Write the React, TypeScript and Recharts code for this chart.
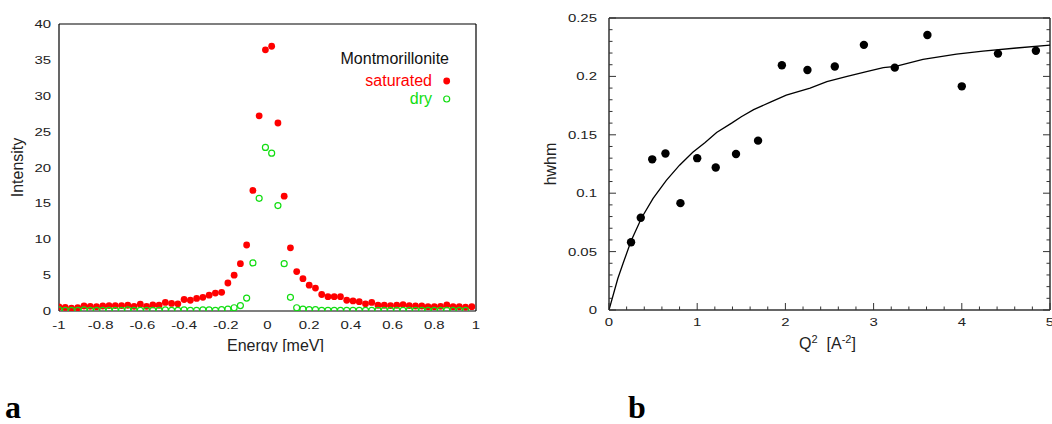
import React from 'react'
import { ScatterChart, Scatter, XAxis, YAxis, Legend, Label } from 'recharts'

// panel a: quasi-elastic spectra
const energy = [
  -1, -0.97, -0.94, -0.91, -0.88, -0.85, -0.82, -0.79, -0.76, -0.73, -0.7, -0.67, -0.64, -0.61,
  -0.58, -0.55, -0.52, -0.49, -0.46, -0.43, -0.4, -0.37, -0.34, -0.31, -0.28, -0.25, -0.22, -0.19,
  -0.16, -0.13, -0.1, -0.07, -0.04, -0.01, 0.02, 0.05, 0.08, 0.11, 0.14, 0.17, 0.2, 0.23, 0.26,
  0.29, 0.32, 0.35, 0.38, 0.41, 0.44, 0.47, 0.5, 0.53, 0.56, 0.59, 0.62, 0.65, 0.68, 0.71, 0.74,
  0.77, 0.8, 0.83, 0.86, 0.89, 0.92, 0.95, 0.98,
]
const saturated = [
  0.56, 0.5, 0.4, 0.45, 0.7, 0.65, 0.6, 0.7, 0.75, 0.75, 0.75, 0.8, 0.65, 0.95,
  0.65, 0.85, 0.8, 1.2, 1.05, 1.0, 1.6, 1.5, 1.75, 1.9, 2.2, 2.5, 2.6, 3.9,
  5.0, 6.6, 9.2, 16.8, 27.2, 36.4, 36.9, 26.2, 16.0, 8.8, 5.5, 4.5, 3.6, 3.2, 2.3,
  2.0, 2.0, 2.0, 1.5, 1.4, 1.3, 1.0, 1.2, 0.8, 0.8, 0.75, 0.8, 0.9, 0.75, 0.7, 0.7,
  0.6, 0.6, 0.65, 0.85, 0.6, 0.6, 0.55, 0.6,
]
const dry: (number | null)[] = [
  0.15, 0.1, 0.1, 0.1, 0.15, 0.1, 0.1, 0.1, 0.1, 0.1, 0.1, 0.15, 0.1, 0.1,
  0.1, 0.1, 0.1, 0.15, 0.1, 0.1, 0.15, 0.1, 0.1, 0.15, 0.15, 0.1, 0.2, 0.25,
  0.45, 0.75, 1.8, 6.7, 15.7, 22.8, 22.0, 14.7, 6.6, 1.9, 0.45, 0.25, 0.2, 0.2, 0.1,
  0.1, 0.1, 0.1, 0.1, 0.1, 0.1, 0.1, 0.1, 0.1, 0.1, 0.1, 0.1, 0.1, 0.1, 0.1, 0.1,
  0.1, 0.1, 0.1, 0.1, 0.1, 0.1, 0.1, null,
]
const energyTicks = [-1, -0.8, -0.6, -0.4, -0.2, 0, 0.2, 0.4, 0.6, 0.8, 1]
const intensityTicks = [0, 5, 10, 15, 20, 25, 30, 35, 40]
const legendTitle = 'Montmorillonite'
const seriesOrder = ['saturated', 'dry']

// panel b: linewidth vs Q^2
const q2 = [0.25, 0.36, 0.49, 0.64, 0.81, 1, 1.21, 1.44, 1.69, 1.96, 2.25, 2.56, 2.89, 3.24, 3.61, 4, 4.41, 4.84]
const hwhm = [0.058, 0.079, 0.129, 0.134, 0.0915, 0.13, 0.122, 0.1335, 0.145, 0.2095, 0.2055, 0.2085, 0.227, 0.2075, 0.2355, 0.1915, 0.2195, 0.222]
const fitQ2 = [0, 0.1, 0.16, 0.25, 0.37, 0.5, 0.65, 0.8, 0.95, 1.09, 1.22, 1.39, 1.5, 1.64, 1.83, 2.01, 2.28, 2.47, 2.7, 2.92, 3.11, 3.25, 3.56, 3.94, 4.24, 4.62, 5]
const fitHwhm = [0, 0.027, 0.04, 0.059, 0.079, 0.0955, 0.111, 0.124, 0.135, 0.1435, 0.152, 0.16, 0.1655, 0.1715, 0.178, 0.184, 0.19, 0.1955, 0.2, 0.204, 0.2075, 0.2085, 0.2145, 0.219, 0.2217, 0.2243, 0.2268]
const q2Ticks = [0, 0.2, 0.4, 0.6, 0.8, 1, 1.2, 1.4, 1.6, 1.8, 2, 2.2, 2.4, 2.6, 2.8, 3, 3.2, 3.4, 3.6, 3.8, 4, 4.2, 4.4, 4.6, 4.8, 5]
const q2Major = [0, 1, 2, 3, 4, 5]
const hwhmTicks = [0, 0.01, 0.02, 0.03, 0.04, 0.05, 0.06, 0.07, 0.08, 0.09, 0.1, 0.11, 0.12, 0.13, 0.14, 0.15, 0.16, 0.17, 0.18, 0.19, 0.2, 0.21, 0.22, 0.23, 0.24, 0.25]
const hwhmMajor = [0, 0.05, 0.1, 0.15, 0.2, 0.25]

const FONT = '"Liberation Sans", Arial, Helvetica, sans-serif'
const RED = '#ff0000'
const GREEN = '#11dd11'

const satData = energy.map((e, i) => ({ x: e, y: saturated[i] }))
const dryData = energy.map((e, i) => ({ x: e, y: dry[i] })).filter((d) => d.y !== null)
const pointData = q2.map((q, i) => ({ x: q, y: hwhm[i] }))
const fitData = fitQ2.map((q, i) => ({ x: q, y: fitHwhm[i] }))

// inward ticks, optional labels; majors get the longer tick
function AxisTick(props: any) {
  const { x, y, payload, side, majors, majorLen = 5, minorLen = 3, showLabel, gap = 0, stroke = '#000' } = props
  const v = payload.value
  const isMajor = !majors || majors.some((m: number) => Math.abs(m - v) < 1e-6)
  const len = isMajor ? majorLen : minorLen
  let line
  if (side === 'bottom') line = <line x1={x} y1={y} x2={x} y2={y - len} />
  else if (side === 'top') line = <line x1={x} y1={y} x2={x} y2={y + len} />
  else if (side === 'left') line = <line x1={x} y1={y} x2={x + len} y2={y} />
  else line = <line x1={x} y1={y} x2={x - len} y2={y} />

  let text = null
  if (showLabel && isMajor) {
    const tx = side === 'left' ? x - gap : x
    const ty = side === 'bottom' ? y + gap : y + 4
    text = (
      <text
        transform={`translate(${tx},${ty}) scale(1.3,1)`}
        textAnchor={side === 'left' ? 'end' : 'middle'}
        fontSize={11.5}
        fill="#222"
      >
        {String(v)}
      </text>
    )
  }
  return (
    <g>
      <g stroke={stroke} strokeWidth={1}>{line}</g>
      {text}
    </g>
  )
}

const renderLegend = (props: any) => {
  const items = [...(props.payload || [])].sort(
    (a: any, b: any) => seriesOrder.indexOf(a.value) - seriesOrder.indexOf(b.value)
  )
  return (
    <svg width={170} height={70} style={{ fontFamily: FONT }}>
      <text x={149} y={24} textAnchor="end" fontSize={16} fill="#111">{legendTitle}</text>
      {items.map((it: any, i: number) => {
        const filled = it.value === 'saturated'
        const ty = 46 + i * 18
        return (
          <g key={it.value}>
            <text x={132} y={ty} textAnchor="end" fontSize={16} fill={it.color}>{it.value}</text>
            {filled ? (
              <circle cx={146.7} cy={ty - 5} r={3.4} fill={it.color} />
            ) : (
              <circle cx={146.7} cy={ty - 5} r={3} fill="none" stroke={it.color} strokeWidth={1.2} />
            )}
          </g>
        )
      })}
    </svg>
  )
}

function SpectraChart() {
  const axisLine = { stroke: '#000', strokeWidth: 1.2 }
  return (
    <ScatterChart width={500} height={352} margin={{ top: 23, right: 23, bottom: 0, left: 0 }}>
      <XAxis
        xAxisId="b"
        type="number"
        dataKey="x"
        domain={[-1, 1]}
        ticks={energyTicks}
        interval={0}
        height={41}
        tickSize={0}
        tickMargin={0}
        tickLine={false}
        axisLine={axisLine}
        tick={<AxisTick side="bottom" showLabel gap={18} />}
        allowDataOverflow
      >
        <Label
          content={(p: any) => {
            const vb = p.viewBox || { x: 59, y: 311, width: 417, height: 41 }
            return (
              <text x={vb.x + vb.width / 2 + 8} y={vb.y + vb.height - 1} textAnchor="middle" fontSize={16} fill="#222">
                Energy [meV]
              </text>
            )
          }}
        />
      </XAxis>
      <XAxis
        xAxisId="t"
        orientation="top"
        type="number"
        domain={[-1, 1]}
        ticks={energyTicks}
        interval={0}
        height={1}
        tickSize={0}
        tickMargin={0}
        tickLine={false}
        axisLine={axisLine}
        tick={<AxisTick side="top" />}
        allowDataOverflow
      />
      <YAxis
        yAxisId="l"
        type="number"
        dataKey="y"
        domain={[0, 40]}
        ticks={intensityTicks}
        interval={0}
        width={59}
        tickSize={0}
        tickMargin={0}
        tickLine={false}
        axisLine={axisLine}
        tick={<AxisTick side="left" showLabel gap={8} />}
        allowDataOverflow
      >
        <Label
          content={(p: any) => {
            const vb = p.viewBox || { x: 0, y: 24, width: 59, height: 287 }
            const cy = vb.y + vb.height / 2
            return (
              <text x={23} y={cy} transform={`rotate(-90, 23, ${cy})`} textAnchor="middle" fontSize={16} fill="#222">
                Intensity
              </text>
            )
          }}
        />
      </YAxis>
      <YAxis
        yAxisId="r"
        orientation="right"
        type="number"
        domain={[0, 40]}
        ticks={intensityTicks}
        interval={0}
        width={1}
        tickSize={0}
        tickMargin={0}
        tickLine={false}
        axisLine={axisLine}
        tick={<AxisTick side="right" />}
        allowDataOverflow
      />
      <Legend
        layout="horizontal"
        verticalAlign="middle"
        align="center"
        content={renderLegend}
        wrapperStyle={{ position: 'absolute', left: 300, top: 40, width: 170, height: 70 }}
      />
      <Scatter
        name="saturated"
        xAxisId="b"
        yAxisId="l"
        data={satData}
        fill={RED}
        isAnimationActive={false}
        shape={(p: any) => <circle cx={p.cx} cy={p.cy} r={3.4} fill={RED} />}
      />
      <Scatter
        name="dry"
        xAxisId="b"
        yAxisId="l"
        data={dryData}
        fill={GREEN}
        isAnimationActive={false}
        shape={(p: any) => <circle cx={p.cx} cy={p.cy} r={3} fill="none" stroke={GREEN} strokeWidth={1.2} />}
      />
    </ScatterChart>
  )
}

function WidthChart() {
  const axisLine = { stroke: '#333', strokeWidth: 1.5 }
  return (
    <ScatterChart width={512} height={360} margin={{ top: 17, right: 1, bottom: 0, left: 0 }}>
      <XAxis
        xAxisId="b"
        type="number"
        dataKey="x"
        domain={[0, 5]}
        ticks={q2Ticks}
        interval={0}
        height={50}
        tickSize={0}
        tickMargin={0}
        tickLine={false}
        axisLine={axisLine}
        tick={<AxisTick side="bottom" majors={q2Major} majorLen={7} minorLen={3.5} stroke="#333" showLabel gap={16} />}
        allowDataOverflow
      >
        <Label
          content={(p: any) => {
            const vb = p.viewBox || { x: 69, y: 310, width: 441, height: 50 }
            return (
              <text x={vb.x + vb.width / 2 - 2} y={vb.y + 39} textAnchor="middle" fontSize={16} fill="#222">
                Q<tspan dy={-6} fontSize={11}>2</tspan>
                <tspan dy={6}>{'\u00a0\u00a0[A'}</tspan>
                <tspan dy={-6} fontSize={11}>-2</tspan>
                <tspan dy={6}>]</tspan>
              </text>
            )
          }}
        />
      </XAxis>
      <XAxis
        xAxisId="t"
        orientation="top"
        type="number"
        domain={[0, 5]}
        ticks={q2Ticks}
        interval={0}
        height={1}
        tickSize={0}
        tickMargin={0}
        tickLine={false}
        axisLine={axisLine}
        tick={<AxisTick side="top" majors={q2Major} majorLen={7} minorLen={3.5} stroke="#333" />}
        allowDataOverflow
      />
      <YAxis
        yAxisId="l"
        type="number"
        dataKey="y"
        domain={[0, 0.25]}
        ticks={hwhmTicks}
        interval={0}
        width={69}
        tickSize={0}
        tickMargin={0}
        tickLine={false}
        axisLine={axisLine}
        tick={<AxisTick side="left" majors={hwhmMajor} majorLen={7} minorLen={3.5} stroke="#333" showLabel gap={12} />}
        allowDataOverflow
      >
        <Label
          content={(p: any) => {
            const vb = p.viewBox || { x: 0, y: 18, width: 69, height: 292 }
            const cy = vb.y + vb.height / 2
            return (
              <text x={16} y={cy} transform={`rotate(-90, 16, ${cy})`} textAnchor="middle" fontSize={16} fill="#222">
                hwhm
              </text>
            )
          }}
        />
      </YAxis>
      <YAxis
        yAxisId="r"
        orientation="right"
        type="number"
        domain={[0, 0.25]}
        ticks={hwhmTicks}
        interval={0}
        width={1}
        tickSize={0}
        tickMargin={0}
        tickLine={false}
        axisLine={axisLine}
        tick={<AxisTick side="right" majors={hwhmMajor} majorLen={7} minorLen={3.5} stroke="#333" />}
        allowDataOverflow
      />
      <Scatter
        name="fit"
        xAxisId="b"
        yAxisId="l"
        data={fitData}
        legendType="none"
        line={{ stroke: '#000', strokeWidth: 1.3 }}
        isAnimationActive={false}
        shape={() => <g />}
      />
      <Scatter
        name="hwhm"
        xAxisId="b"
        yAxisId="l"
        data={pointData}
        fill="#000"
        isAnimationActive={false}
        shape={(p: any) => <circle cx={p.cx} cy={p.cy} r={4.2} fill="#000" />}
      />
    </ScatterChart>
  )
}

export default function App() {
  return (
    <div style={{ position: 'absolute', left: 0, top: 0, width: 1052, height: 424, background: '#fff', fontFamily: FONT, overflow: 'hidden' }}>
      <div style={{ position: 'absolute', left: 0, top: 0 }}>
        <SpectraChart />
      </div>
      <div style={{ position: 'absolute', left: 540, top: 0 }}>
        <WidthChart />
      </div>
      <svg width={1052} height={54} style={{ position: 'absolute', left: 0, top: 370 }}>
        <text x={5} y={48} fontFamily='"Liberation Serif", "Times New Roman", serif' fontWeight="bold" fontSize={32} fill="#000">a</text>
        <text x={628} y={48} fontFamily='"Liberation Serif", "Times New Roman", serif' fontWeight="bold" fontSize={32} fill="#000">b</text>
      </svg>
    </div>
  )
}
